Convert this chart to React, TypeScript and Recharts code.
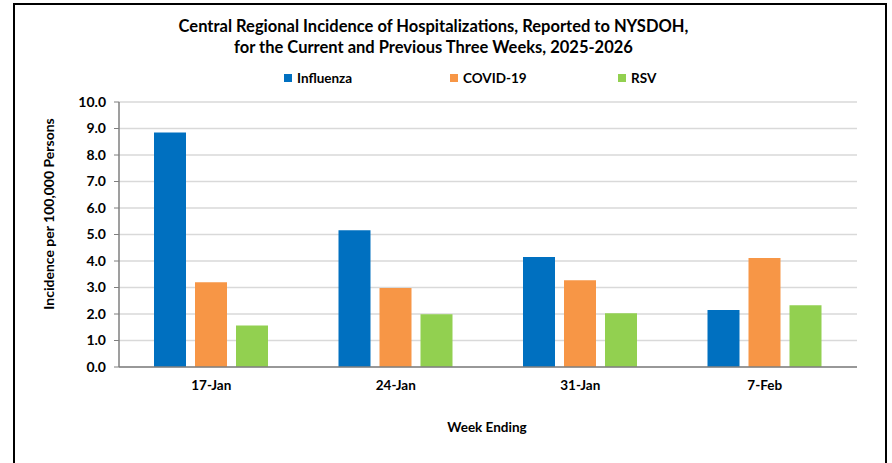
import { BarChart, Bar, XAxis, YAxis, CartesianGrid, Label } from "recharts";

const weeks = ["17-Jan", "24-Jan", "31-Jan", "7-Feb"];
const influenza = [8.85, 5.16, 4.15, 2.15];
const covid = [3.2, 2.98, 3.27, 4.11];
const rsv = [1.57, 1.99, 2.03, 2.33];
const yTicks = [0, 1, 2, 3, 4, 5, 6, 7, 8, 9, 10];

const seriesInfo = [
  { key: "influenza", name: "Influenza", color: "#0070C0" },
  { key: "covid", name: "COVID-19", color: "#F79646" },
  { key: "rsv", name: "RSV", color: "#92D050" },
];

const chartData = weeks.map((week, i) => ({
  week,
  influenza: influenza[i],
  covid: covid[i],
  rsv: rsv[i],
}));

const FONT = "Lato, 'Open Sans', sans-serif";

function LegendRow() {
  const starts = [284, 450, 618];
  return (
    <>
      {seriesInfo.map((s, i) => (
        <div
          key={s.key}
          style={{
            position: "absolute",
            left: starts[i],
            top: 70,
            display: "flex",
            alignItems: "center",
            fontFamily: FONT,
            fontWeight: 700,
            fontSize: 13.5,
            color: "#000",
          }}
        >
          <span style={{ width: 8, height: 8, background: s.color, marginRight: 5 }} />
          {s.name}
        </div>
      ))}
    </>
  );
}

export default function App() {
  return (
    <div
      style={{
        position: "absolute",
        left: 0,
        top: 0,
        width: 892,
        height: 463,
        overflow: "hidden",
        background: "#fff",
      }}
    >
      <div
        style={{
          position: "absolute",
          left: 13,
          top: 3,
          width: 870,
          height: 500,
          border: "2px solid #000",
        }}
      />
      <div
        style={{
          position: "absolute",
          left: 0,
          top: 16,
          width: 867,
          textAlign: "center",
          fontFamily: FONT,
          fontWeight: 700,
          fontSize: 16.5,
          lineHeight: "21px",
          color: "#000",
        }}
      >
        Central Regional Incidence of Hospitalizations, Reported to NYSDOH,
        <br />
        for the Current and Previous Three Weeks, 2025-2026
      </div>
      <LegendRow />
      <div style={{ position: "absolute", left: 0, top: 0 }}>
        <BarChart
          width={892}
          height={463}
          data={chartData}
          margin={{ top: 102, right: 35, bottom: 36, left: 59 }}
          barGap={9}
          barCategoryGap={35}
        >
          <CartesianGrid vertical={false} stroke="#d9d9d9" strokeWidth={1.5} />
          <XAxis
            dataKey="week"
            height={60}
            tickLine={false}
            tickSize={0}
            tickMargin={13}
            axisLine={{ stroke: "#7f7f7f", strokeWidth: 1.5 }}
            tick={{ fill: "#000", fontFamily: FONT, fontWeight: 700, fontSize: 13.5 }}
          >
            <Label
              content={() => (
                <text
                  x={487}
                  y={432}
                  textAnchor="middle"
                  fontFamily={FONT}
                  fontWeight={700}
                  fontSize={13.5}
                  fill="#000"
                >
                  Week Ending
                </text>
              )}
            />
          </XAxis>
          <YAxis
            width={60}
            domain={[0, 10]}
            ticks={yTicks}
            interval={0}
            tickFormatter={(v: number) => v.toFixed(1)}
            tickSize={5}
            tickMargin={8}
            tickLine={{ stroke: "#7f7f7f" }}
            axisLine={{ stroke: "#7f7f7f", strokeWidth: 1.5 }}
            tick={{ fill: "#000", fontFamily: FONT, fontWeight: 700, fontSize: 14 }}
          >
            <Label
              content={() => (
                <text
                  x={54}
                  y={214}
                  transform="rotate(-90 54 214)"
                  textAnchor="middle"
                  fontFamily={FONT}
                  fontWeight={700}
                  fontSize={14}
                  fill="#000"
                >
                  Incidence per 100,000 Persons
                </text>
              )}
            />
          </YAxis>
          {seriesInfo.map((s) => (
            <Bar key={s.key} dataKey={s.key} name={s.name} fill={s.color} isAnimationActive={false} />
          ))}
        </BarChart>
      </div>
    </div>
  );
}
